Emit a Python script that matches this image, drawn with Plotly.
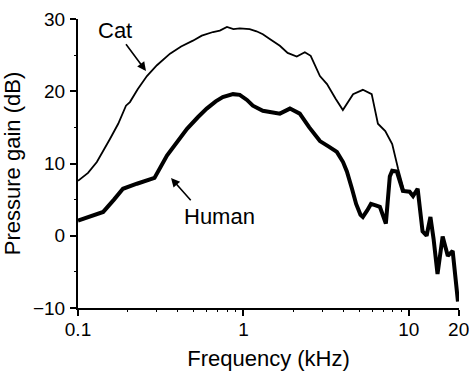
import math
import plotly.graph_objects as go

# ---- data ----
cat_freq = [0.1, 0.115, 0.13, 0.145, 0.156, 0.175, 0.195, 0.206, 0.23, 0.261, 0.3, 0.36,
            0.42, 0.495, 0.56, 0.655, 0.72, 0.795, 0.87, 0.95, 1.09, 1.2, 1.31, 1.45,
            1.66, 1.85, 2.1, 2.35, 2.55, 2.9, 3.2, 3.6, 3.99, 4.6, 5.27, 5.96, 6.5,
            7.2, 7.93, 8.6, 9.4]
cat_gain = [7.6, 8.7, 10.2, 12.0, 13.4, 15.5, 18.0, 18.5, 20.3, 22.1, 23.6, 25.2,
            26.2, 27.0, 27.7, 28.2, 28.4, 28.9, 28.6, 28.7, 28.6, 28.3, 27.9, 27.2,
            26.3, 25.3, 24.8, 25.4, 24.9, 22.1, 21.0, 19.0, 17.4, 19.6, 20.2, 19.6, 15.5,
            14.5, 12.7, 9.3, 6.1]

human_freq = [0.1, 0.142, 0.165, 0.187, 0.227, 0.29, 0.345, 0.40, 0.456, 0.53, 0.60, 0.68,
              0.75, 0.865, 0.95, 1.05, 1.14, 1.31, 1.66, 1.91, 2.05, 2.19, 2.5, 2.9,
              3.3, 3.67, 4.0, 4.22, 4.53, 4.8, 5.1, 5.27, 5.6, 5.9, 6.3, 6.68, 7.26,
              7.67, 7.93, 8.45, 9.2, 10.1, 10.6, 11.3, 12.1, 12.8, 13.5, 14.1, 14.9,
              16.0, 17.2, 18.4, 19.8]
human_gain = [2.1, 3.3, 5.0, 6.5, 7.2, 8.0, 11.1, 13.0, 14.8, 16.4, 17.6, 18.6,
              19.2, 19.6, 19.5, 18.8, 18.0, 17.3, 16.9, 17.6, 17.3, 16.9, 15.0, 13.1,
              12.3, 11.6, 10.2, 8.9, 6.5, 4.4, 2.9, 2.6, 3.5, 4.4, 4.2, 4.0, 1.7,
              8.2, 9.0, 8.9, 6.2, 6.1, 5.5, 6.5, 0.6, 0.0, 2.6, -0.4, -5.3,
              -0.1, -2.8, -2.1, -9.1]

x_tick_vals = [0.1, 1, 10, 20]
x_tick_text = ["0.1", "1", "10", "20"]
x_minor_vals = [0.2, 0.3, 0.4, 0.5, 0.6, 0.7, 0.8, 0.9, 2, 3, 4, 5, 6, 7, 8, 9]
y_tick_vals = [-10, 0, 10, 20, 30]
y_minor_vals = [-5, 5, 15, 25]

FONT = "Liberation Sans, Arial, Helvetica, sans-serif"
L = math.log10
XR = [-1, L(20) + 0.002]
YR = [-10, 30]

fig = go.Figure()
fig.add_trace(go.Scatter(x=cat_freq, y=cat_gain, mode="lines",
                         line=dict(color="black", width=1.8), name="Cat"))
fig.add_trace(go.Scatter(x=human_freq, y=human_gain, mode="lines",
                         line=dict(color="black", width=4), name="Human"))

# labels
fig.add_annotation(x=L(0.1675), y=28.4, xref="x", yref="y", text="Cat",
                   showarrow=False, font=dict(family=FONT, size=22, color="black"))
fig.add_annotation(x=L(0.72), y=2.6, xref="x", yref="y", text="Human",
                   showarrow=False, font=dict(family=FONT, size=22, color="black"))
# arrows
fig.add_annotation(x=L(0.2576), y=22.8, ax=L(0.192), ay=26.7, xref="x", yref="y",
                   axref="x", ayref="y", text="", showarrow=True, arrowhead=2,
                   arrowsize=1.1, arrowwidth=1.6, arrowcolor="black")
fig.add_annotation(x=L(0.365), y=8.0, ax=L(0.489), ay=4.7, xref="x", yref="y",
                   axref="x", ayref="y", text="", showarrow=True, arrowhead=2,
                   arrowsize=1.1, arrowwidth=1.6, arrowcolor="black")

tf = dict(family=FONT, size=19, color="black")
fig.update_layout(
    width=469, height=371, showlegend=False,
    margin=dict(l=78, r=10, t=19, b=63),
    paper_bgcolor="white", plot_bgcolor="white",
    xaxis=dict(type="log", range=XR, automargin=False,
               tickmode="array", tickvals=x_tick_vals, ticktext=x_tick_text,
               ticks="outside", ticklen=6, tickwidth=1.6, tickcolor="black",
               ticklabeloverflow="allow", ticklabelstandoff=-3,
               showline=True, linecolor="black", linewidth=2, showgrid=False,
               zeroline=False, tickfont=tf,
               title=dict(text="Frequency (kHz)", standoff=16,
                          font=dict(family=FONT, size=22, color="black"))),
    yaxis=dict(range=YR, automargin=False, tickmode="array", tickvals=y_tick_vals,
               ticks="outside", ticklen=6, tickwidth=1.6, tickcolor="black",
               showline=True, linecolor="black", linewidth=2, showgrid=False,
               zeroline=False, tickfont=tf, ticklabelstandoff=1,
               title=dict(text="Pressure gain (dB)", standoff=8,
                          font=dict(family=FONT, size=22, color="black"))),
    # minor-tick helper axes
    xaxis2=dict(type="log", range=XR, overlaying="x", anchor="y", side="bottom",
                automargin=False, tickmode="array", tickvals=x_minor_vals,
                showticklabels=False, ticks="outside", ticklen=3, tickwidth=1.4,
                tickcolor="black", showline=False, showgrid=False, zeroline=False),
    yaxis2=dict(range=YR, overlaying="y", anchor="x", side="left",
                automargin=False, tickmode="array", tickvals=y_minor_vals,
                showticklabels=False, ticks="outside", ticklen=3, tickwidth=1.4,
                tickcolor="black", showline=False, showgrid=False, zeroline=False),
)
# invisible trace to activate helper axes
fig.add_trace(go.Scatter(x=[0.1], y=[0], xaxis="x2", yaxis="y2", mode="markers",
                         marker=dict(opacity=0), hoverinfo="skip"))

fig.write_html("out.html")
